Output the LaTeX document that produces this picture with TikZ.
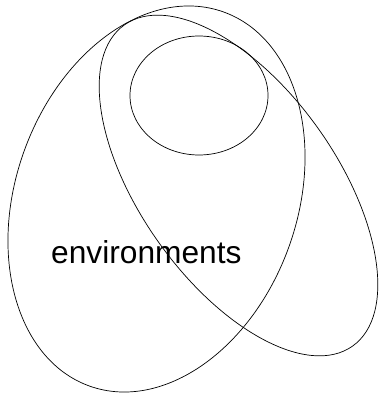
\documentclass[tikz,border=0pt]{standalone}
\usepackage{fontspec}
\setmainfont{Liberation Sans}
\begin{document}
\begin{tikzpicture}[x=1pt,y=1pt,
  blob/.style={draw=black,line width=0.7pt},
  lbl/.style={font=\fontsize{31.7}{38}\selectfont,inner sep=0pt}]
\useasboundingbox (0,0) rectangle (379,394);
\draw[blob,rotate around={-19.7:(156.5,195)}] (156.5,195) ellipse [x radius=140.8, y radius=198.7];
\draw[blob,rotate around={35.4:(238.5,208.5)}] (238.5,208.5) ellipse [x radius=98, y radius=197];
\draw[blob] (199,298.5) ellipse [x radius=69, y radius=59.5];
\node[lbl,anchor=base west] (env) at (51,130.7) {environments};
\end{tikzpicture}
\end{document}
